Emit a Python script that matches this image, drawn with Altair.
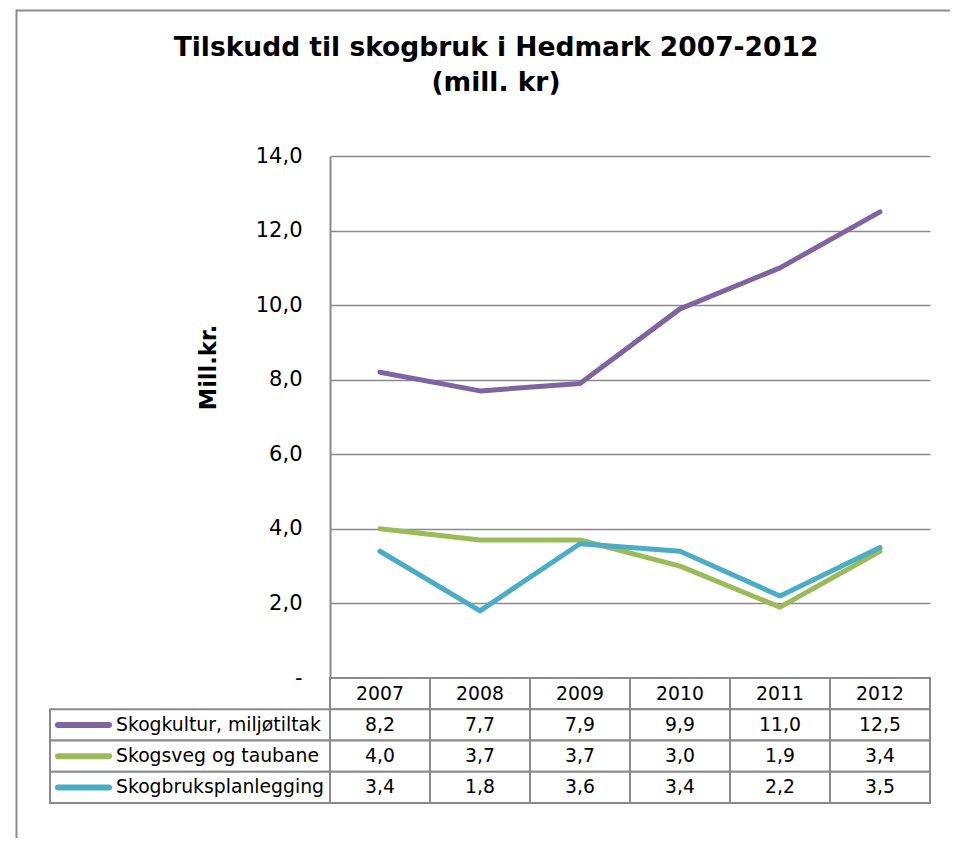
import altair as alt
import pandas as pd

# ---- data ----
years = ["2007", "2008", "2009", "2010", "2011", "2012"]
series = ["Skogkultur, miljøtiltak", "Skogsveg og taubane", "Skogbruksplanlegging"]
skogkultur = [8.2, 7.7, 7.9, 9.9, 11.0, 12.5]
skogsveg = [4.0, 3.7, 3.7, 3.0, 1.9, 3.4]
planlegging = [3.4, 1.8, 3.6, 3.4, 2.2, 3.5]
colors = ["#8064A2", "#9BBB59", "#4BACC6"]
y_ticks = [0, 2, 4, 6, 8, 10, 12, 14]
title_lines = ["Tilskudd til skogbruk i Hedmark 2007-2012", "(mill. kr)"]
y_title = "Mill.kr."

values = [skogkultur, skogsveg, planlegging]
long = pd.DataFrame(
    [{"series": s, "year": y, "value": v, "order": i}
     for i, (s, vals) in enumerate(zip(series, values))
     for y, v in zip(years, vals)]
)

# table rows
row_keys = ["hdr"] + series
cells = pd.DataFrame(
    [{"row": "hdr", "year": y, "label": y} for y in years]
    + [{"row": s, "year": y, "label": f"{v:.1f}".replace(".", ",")}
       for s, vals in zip(series, values) for y, v in zip(years, vals)]
)
labels = pd.DataFrame({"row": series, "series": series})
dummy = pd.DataFrame({"k": [0]})

# ---- layout ----
W, PLOT_H, TABLE_H = 600, 522, 125
H = PLOT_H + TABLE_H
GRID = "#8a8a8a"
FONT = "DejaVu Sans"

xs = alt.Scale(type="band", domain=years, paddingInner=0, paddingOuter=0)
ys_plot = alt.Scale(domain=[0, 14], range=[PLOT_H, 0], nice=False, zero=True)
ys_tab = alt.Scale(type="band", domain=row_keys, range=[PLOT_H, H],
                   paddingInner=0, paddingOuter=0)
cscale = alt.Scale(domain=series, range=colors)

# outer chart-area border (left and top edges only are visible in the reference)
frame_top = alt.Chart(dummy).mark_rule(stroke="#8c8c8c", strokeWidth=2).encode(
    x=alt.value(-313.5), x2=alt.value(620), y=alt.value(-145.5)
)
frame_left = alt.Chart(dummy).mark_rule(stroke="#8c8c8c", strokeWidth=2).encode(
    x=alt.value(-313.5), y=alt.value(-146.5), y2=alt.value(682)
)

title1 = alt.Chart(dummy).mark_text(
    text=title_lines[0], font=FONT, fontSize=26.5, fontWeight="bold", color="#000",
    align="center", baseline="middle"
).encode(x=alt.value(166), y=alt.value(-108))
title2 = alt.Chart(dummy).mark_text(
    text=title_lines[1], font=FONT, fontSize=26.5, fontWeight="bold", color="#000",
    align="center", baseline="middle"
).encode(x=alt.value(166), y=alt.value(-73))

lines = alt.Chart(long).mark_line(strokeWidth=5, strokeCap="round", strokeJoin="round").encode(
    x=alt.X("year:N", scale=xs, bandPosition=0.5, axis=None),
    y=alt.Y("value:Q", scale=ys_plot,
            axis=alt.Axis(values=y_ticks, grid=True, gridColor=GRID, gridWidth=1.5,
                          domain=True, domainColor=GRID, domainWidth=2, ticks=False,
                          labelPadding=28, labelFontSize=21, labelFont=FONT, labelColor="#000",
                          labelExpr="datum.value == 0 ? '-\u00a0\u00a0' : replace(format(datum.value, '.1f'), '.', ',')",
                          title=y_title, titleFont=FONT, titleFontSize=22.5, titleFontWeight="bold",
                          titleColor="#000", titleAngle=-90, titleX=-122, titleY=211,
                          titleAlign="center", titleBaseline="middle")),
    color=alt.Color("series:N", scale=cscale, legend=None),
    detail="order:O",
)

year_cells = alt.Chart(cells).mark_rect(fill="white", stroke=GRID, strokeWidth=2).encode(
    x=alt.X("year:N", scale=xs, axis=None),
    y=alt.Y("row:N", scale=ys_tab, axis=None),
)
label_cells = alt.Chart(labels).mark_rect(fill="white", stroke=GRID, strokeWidth=2).encode(
    x=alt.value(-280), x2=alt.value(0),
    y=alt.Y("row:N", scale=ys_tab, axis=None),
)
swatches = alt.Chart(labels).mark_rule(strokeWidth=6, strokeCap="round").encode(
    x=alt.value(-272), x2=alt.value(-221),
    y=alt.Y("row:N", scale=ys_tab, axis=None, bandPosition=0.5),
    color=alt.Color("series:N", scale=cscale, legend=None),
)
label_text = alt.Chart(labels).mark_text(
    align="left", baseline="middle", font=FONT, fontSize=18.8, color="#000"
).encode(
    x=alt.value(-214),
    y=alt.Y("row:N", scale=ys_tab, axis=None, bandPosition=0.5),
    text="series:N",
)
cell_text = alt.Chart(cells).mark_text(
    align="center", baseline="middle", font=FONT, fontSize=18.8, color="#000"
).encode(
    x=alt.X("year:N", scale=xs, bandPosition=0.5, axis=None),
    y=alt.Y("row:N", scale=ys_tab, axis=None, bandPosition=0.5),
    text="label:N",
)

table = alt.layer(year_cells, label_cells, swatches, label_text, cell_text)

chart = alt.layer(frame_top, frame_left, title1, title2, table, lines).resolve_scale(
    y="independent"
).properties(
    width=W, height=H,
    autosize=alt.AutoSizeParams(type="none"),
    padding={"left": 322, "top": 148, "right": 20, "bottom": 35},
    background="white",
).configure_view(strokeWidth=0)

chart.save("out.html", embed_options={"renderer": "svg", "actions": False})
